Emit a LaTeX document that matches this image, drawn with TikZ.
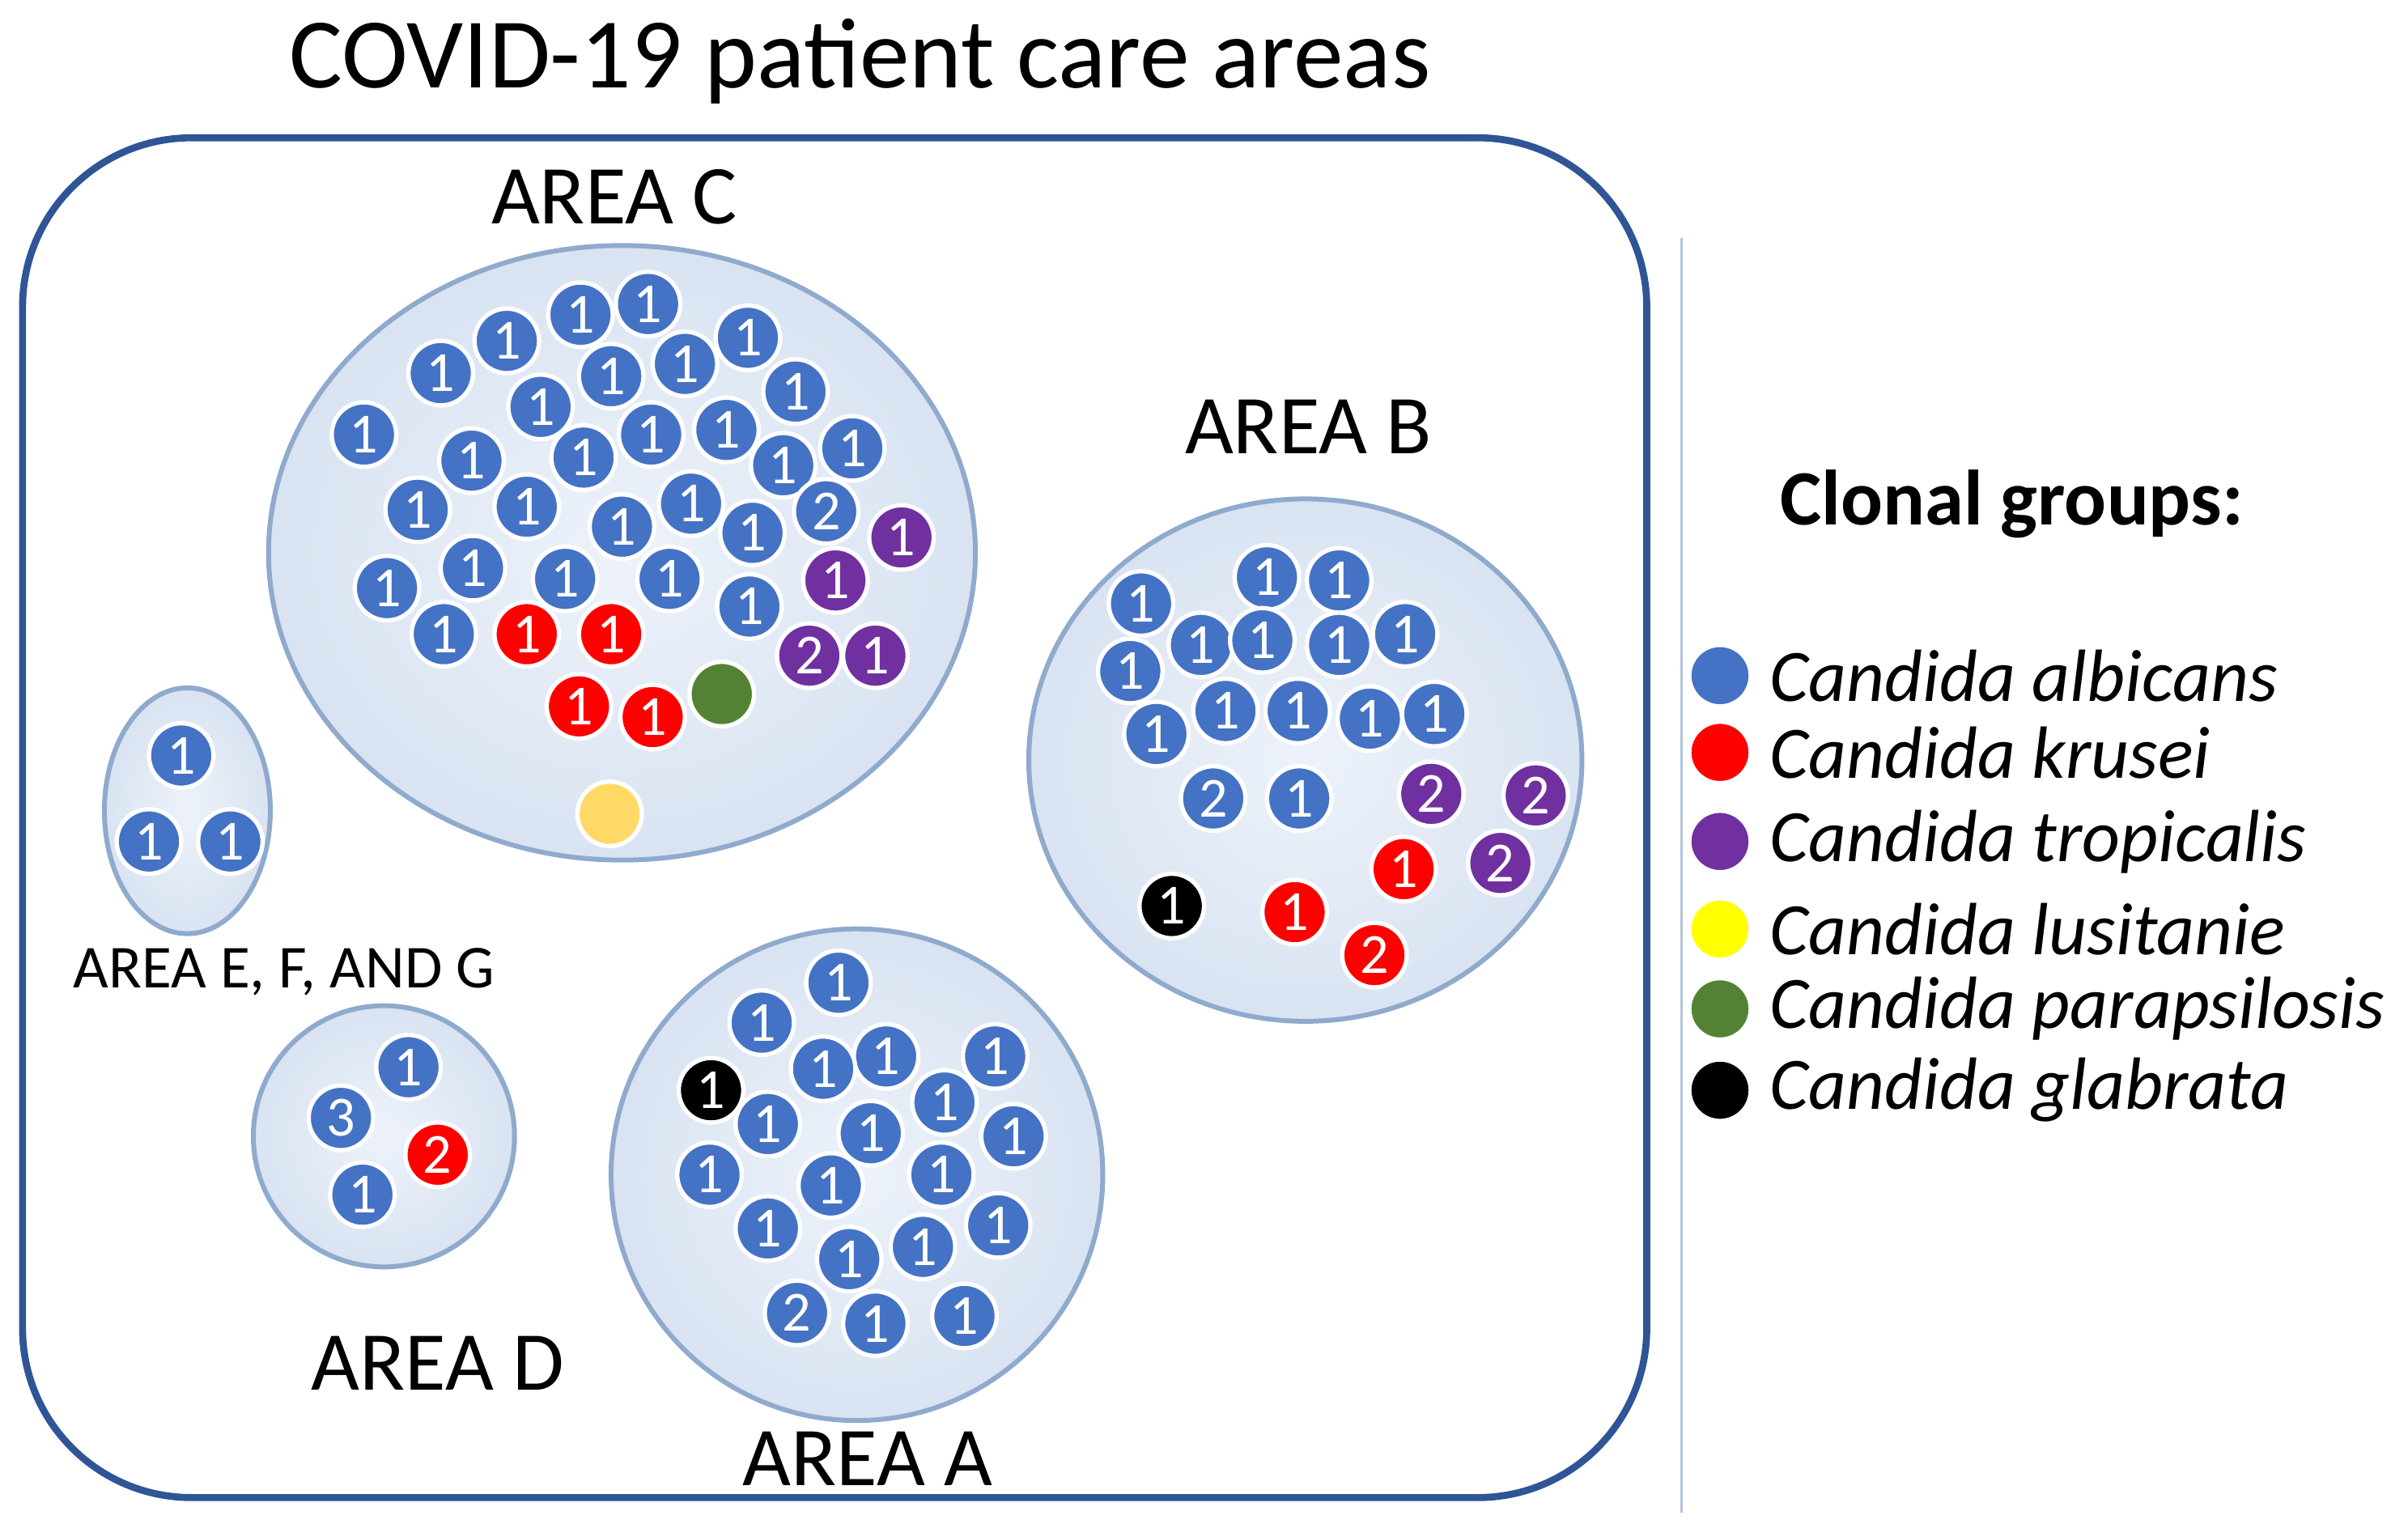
\documentclass[tikz,border=0pt]{standalone}
\usepackage{fontspec}
\setmainfont{Carlito}
\usetikzlibrary{shapes.geometric}
\definecolor{cblue}{HTML}{4472C4}
\definecolor{cred}{HTML}{FF0000}
\definecolor{cpurp}{HTML}{7030A0}
\definecolor{cyel}{HTML}{FFFF00}
\definecolor{cyel2}{HTML}{FFD966}
\definecolor{cgreen}{HTML}{548235}
\definecolor{frame}{HTML}{2F5597}
\definecolor{areafill}{HTML}{E6EDF8}
\definecolor{areadraw}{HTML}{8FAACC}
\begin{document}
\begin{tikzpicture}[x=0.01cm,y=-0.01cm,
  area/.style={ellipse,draw=areadraw,line width=0.9pt,inner color=areafill!70,outer color=areafill!85!areadraw,inner sep=0},
  dot/.style={circle,fill=#1,draw=white,line width=0.8pt,minimum size=0.42cm,inner sep=0,text=white,font=\fontsize{10.5}{10.5}\selectfont},
  lab/.style={font=\fontsize{15.5}{18}\selectfont},
  leg/.style={font=\fontsize{13.7}{16}\selectfont\itshape,anchor=west}]
\useasboundingbox (0,0) rectangle (1568,992);
\node[font=\fontsize{18.5}{22}\selectfont] (title) at (560,40) {COVID-19 patient care areas};
\node[draw=frame,line width=1.3pt,rounded corners=1.1cm,minimum width=10.57cm,minimum height=8.85cm] (box) at (543.5,532.5) {};
\coordinate (vt) at (1095,155); \coordinate (vb) at (1095,985);
\draw[areadraw!70,line width=0.5pt] (vt) -- (vb);
\node[area,minimum width=4.6cm,minimum height=4cm] (areaC) at (405,360) {};
\node[area,minimum width=3.6cm,minimum height=3.4cm] (areaB) at (850,495) {};
\node[area,minimum width=1.08cm,minimum height=1.6cm] (areaE) at (122,528) {};
\node[area,minimum width=1.7cm,minimum height=1.7cm] (areaD) at (250,740) {};
\node[area,minimum width=3.2cm,minimum height=3.2cm] (areaA) at (558,765) {};
\node[lab] (lC) at (400,128) {AREA C};
\node[lab] (lB) at (852,278) {AREA B};
\node[font=\fontsize{11.3}{13}\selectfont] (lE) at (185,633) {AREA E, F, AND G};
\node[lab] (lD) at (285,888) {AREA D};
\node[lab] (lA) at (565,950) {AREA A};
\foreach \x/\y/\n/\c [count=\i] in {
378/205/1/cblue,422/198/1/cblue,330/222/1/cblue,487/220/1/cblue,287/243/1/cblue,398/245/1/cblue,446/237/1/cblue,518/255/1/cblue,352/265/1/cblue,237/283/1/cblue,424/283/1/cblue,473/280/1/cblue,307/300/1/cblue,380/298/1/cblue,510/303/1/cblue,555/292/1/cblue,272/332/1/cblue,343/330/1/cblue,450/328/1/cblue,405/343/1/cblue,490/347/1/cblue,538/333/2/cblue,587/350/1/cpurp,252/383/1/cblue,308/370/1/cblue,368/377/1/cblue,436/377/1/cblue,544/378/1/cpurp,488/395/1/cblue,289/413/1/cblue,343/413/1/cred,398/413/1/cred,527/427/2/cpurp,570/427/1/cpurp,377/460/1/cred,425/467/1/cred,470/452//cgreen,397/530//cyel2,
118/492/1/cblue,97/548/1/cblue,150/548/1/cblue,
825/376/1/cblue,872/378/1/cblue,743/393/1/cblue,782/420/1/cblue,822/417/1/cblue,872/420/1/cblue,915/413/1/cblue,736/437/1/cblue,753/478/1/cblue,798/463/1/cblue,845/463/1/cblue,892/468/1/cblue,934/465/1/cblue,790/520/2/cblue,846/520/1/cblue,932/517/2/cpurp,1000/518/2/cpurp,977/562/2/cpurp,914/566/1/cred,763/590/1/black,843/594/1/cred,895/622/2/cred,
266/695/1/cblue,222/728/3/cblue,285/752/2/cred,236/778/1/cblue,
546/640/1/cblue,496/666/1/cblue,577/688/1/cblue,536/696/1/cblue,648/688/1/cblue,463/710/1/black,615/718/1/cblue,500/732/1/cblue,567/738/1/cblue,660/740/1/cblue,462/765/1/cblue,541/772/1/cblue,613/765/1/cblue,500/800/1/cblue,650/798/1/cblue,601/812/1/cblue,553/820/1/cblue,519/855/2/cblue,570/862/1/cblue,628/857/1/cblue}
  \node[dot=\c] (d\i) at (\x,\y) {\n};
\node[font=\fontsize{14.5}{17}\selectfont\bfseries] (lg) at (1310,328) {Clonal groups:};
\foreach \y/\c/\t [count=\i] in {440/cblue/Candida albicans,490/cred/Candida krusei,548/cpurp/Candida tropicalis,605/cyel/Candida lusitanie,657/cgreen/Candida parapsilosis,710/black/Candida glabrata}{
  \node[dot=\c,minimum size=0.4cm] (g\i) at (1120,\y) {};
  \node[leg] (t\i) at (1140,\y) {\t};
}
\end{tikzpicture}
\end{document}
